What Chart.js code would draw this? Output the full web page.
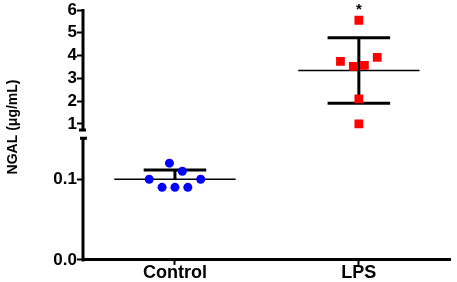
<!DOCTYPE html>
<html>
<head>
<meta charset="utf-8">
<script src="https://cdn.jsdelivr.net/npm/chart.js@4/dist/chart.umd.min.js"></script>
<style>
    html, body { margin: 0; padding: 0; background: #fff; }
    #caixa { width: 457px; height: 282px; }
</style>
</head>
<body>
<div id="caixa"><canvas id="grafico"></canvas></div>
<script>
// Dados
const categorias = ["Control", "LPS"];
const valoresControl = [0.12, 0.11, 0.10, 0.10, 0.09, 0.09, 0.09];
const deslocControl = [-0.03, 0.04, -0.14, 0.14, -0.07, 0, 0.07];
const valoresLPS = [5.55, 3.92, 3.74, 3.57, 3.52, 2.1, 1.0];
const deslocLPS = [0, 0.1, -0.1, 0.03, -0.03, 0, 0];
const ticksSuperior = [1, 2, 3, 4, 5, 6];
const ticksInferior = [0.0, 0.1];
const tituloY = "NGAL (μg/mL)";
const marcaLPS = "*";

// limites do eixo quebrado
const quebraSuperior = 0.73;
const quebraInferior = 0.151;

const fonte = "'Liberation Sans', Arial, sans-serif";

function media(v) {
    return v.reduce((a, b) => a + b, 0) / v.length;
}

function desvio(v) {
    const m = media(v);
    return Math.sqrt(v.reduce((a, b) => a + (b - m) ** 2, 0) / (v.length - 1));
}

function linha(pontos, eixo, largura) {
    return {
        type: "line",
        data: pontos,
        yAxisID: eixo,
        borderColor: "#000",
        borderWidth: largura,
        pointRadius: 0,
        fill: false,
        order: 2
    };
}

// média + DP de cada grupo
function barrasGrupo(valores, pos, eixo, soAcima) {
    const m = media(valores);
    const dp = desvio(valores);
    const lista = [
        linha([{ x: pos - 0.33, y: m }, { x: pos + 0.33, y: m }], eixo, 1.5),
        linha([{ x: pos, y: soAcima ? m : m - dp }, { x: pos, y: m + dp }], eixo, 3),
        linha([{ x: pos - 0.17, y: m + dp }, { x: pos + 0.17, y: m + dp }], eixo, 3)
    ];
    if (!soAcima) {
        lista.push(linha([{ x: pos - 0.17, y: m - dp }, { x: pos + 0.17, y: m - dp }], eixo, 3));
    }
    return lista;
}

const eixoQuebrado = {
    id: "eixoQuebrado",
    afterDraw(chart) {
        const ctx = chart.ctx;
        const sup = chart.scales.ySup;
        const inf = chart.scales.yInf;
        const x = chart.chartArea.left;
        const fimSup = sup.getPixelForValue(quebraSuperior);
        const iniInf = inf.getPixelForValue(quebraInferior);

        ctx.save();
        ctx.strokeStyle = "#000";
        ctx.lineWidth = 3;
        ctx.beginPath();
        ctx.moveTo(x, sup.getPixelForValue(6) - 1);
        ctx.lineTo(x, fimSup);
        ctx.moveTo(x - 4, fimSup);
        ctx.lineTo(x + 3, fimSup);
        ctx.moveTo(x - 3, iniInf);
        ctx.lineTo(x + 4, iniInf);
        ctx.moveTo(x, iniInf);
        ctx.lineTo(x, inf.bottom + 1.5);
        ctx.stroke();

        // título do eixo Y
        ctx.fillStyle = "#000";
        ctx.font = "bold 14px " + fonte;
        ctx.textAlign = "center";
        ctx.textBaseline = "middle";
        ctx.translate(13, (chart.chartArea.top + chart.chartArea.bottom) / 2 - 8);
        ctx.rotate(-Math.PI / 2);
        ctx.fillText(tituloY, 0, 0);
        ctx.restore();

        // asterisco sobre o LPS
        ctx.save();
        ctx.fillStyle = "#000";
        ctx.font = "bold 15px " + fonte;
        ctx.textAlign = "center";
        ctx.textBaseline = "alphabetic";
        const xs = chart.scales.x.getPixelForValue(1);
        const ys = sup.getPixelForValue(Math.max(...valoresLPS)) - 6;
        ctx.fillText(marcaLPS, xs, ys);
        ctx.restore();
    }
};

const fonteTicks = { family: fonte, size: 17, weight: "bold", lineHeight: 1.1 };

const ctx = document.getElementById("grafico").getContext("2d");

new Chart(ctx, {
    type: "scatter",
    data: {
        datasets: [
            {
                label: "Control",
                data: valoresControl.map((v, i) => ({ x: 0 + deslocControl[i], y: v })),
                yAxisID: "yInf",
                pointStyle: "circle",
                pointRadius: 4.5,
                backgroundColor: "#0000ff",
                borderWidth: 0,
                order: 0
            },
            {
                label: "LPS",
                data: valoresLPS.map((v, i) => ({ x: 1 + deslocLPS[i], y: v })),
                yAxisID: "ySup",
                pointStyle: "rect",
                pointRadius: 6.2,
                backgroundColor: "#ff0000",
                borderWidth: 0,
                order: 0
            },
            ...barrasGrupo(valoresControl, 0, "yInf", true),
            ...barrasGrupo(valoresLPS, 1, "ySup", false)
        ]
    },
    options: {
        responsive: true,
        maintainAspectRatio: false,
        animation: false,
        layout: { padding: { top: 10, right: 2, bottom: 0, left: 0 } },
        plugins: {
            legend: { display: false },
            tooltip: { enabled: false }
        },
        scales: {
            x: {
                type: "linear",
                min: -0.5,
                max: 1.5,
                afterBuildTicks: s => { s.ticks = categorias.map((c, i) => ({ value: i })); },
                ticks: {
                    callback: v => categorias[v],
                    font: { family: fonte, size: 18, weight: "bold", lineHeight: 0.95 },
                    color: "#000",
                    padding: 0,
                    maxRotation: 0,
                    autoSkip: false
                },
                grid: { drawOnChartArea: false, tickLength: 5, tickWidth: 2, color: "#000" },
                border: { display: true, width: 3, color: "#000" }
            },
            ySup: {
                type: "linear",
                position: "left",
                stack: "y",
                stackWeight: 123,
                weight: 1,
                min: 0.558,
                max: 6,
                afterBuildTicks: s => { s.ticks = ticksSuperior.map(v => ({ value: v })); },
                afterFit: s => { s.width = 83; },
                ticks: { font: fonteTicks, color: "#000", padding: 0, autoSkip: false, callback: v => String(v) },
                grid: { drawOnChartArea: false, tickLength: 6, tickWidth: 2, color: "#000" },
                border: { display: false }
            },
            yInf: {
                type: "linear",
                position: "left",
                stack: "y",
                stackWeight: 125,
                weight: 0,
                min: 0,
                max: 0.15625,
                afterBuildTicks: s => { s.ticks = ticksInferior.map(v => ({ value: v })); },
                afterFit: s => { s.width = 83; },
                ticks: { font: fonteTicks, color: "#000", padding: 0, autoSkip: false, callback: v => v.toFixed(1) },
                grid: { drawOnChartArea: false, tickLength: 6, tickWidth: 2, color: "#000" },
                border: { display: false }
            }
        }
    },
    plugins: [eixoQuebrado]
});
</script>
</body>
</html>
